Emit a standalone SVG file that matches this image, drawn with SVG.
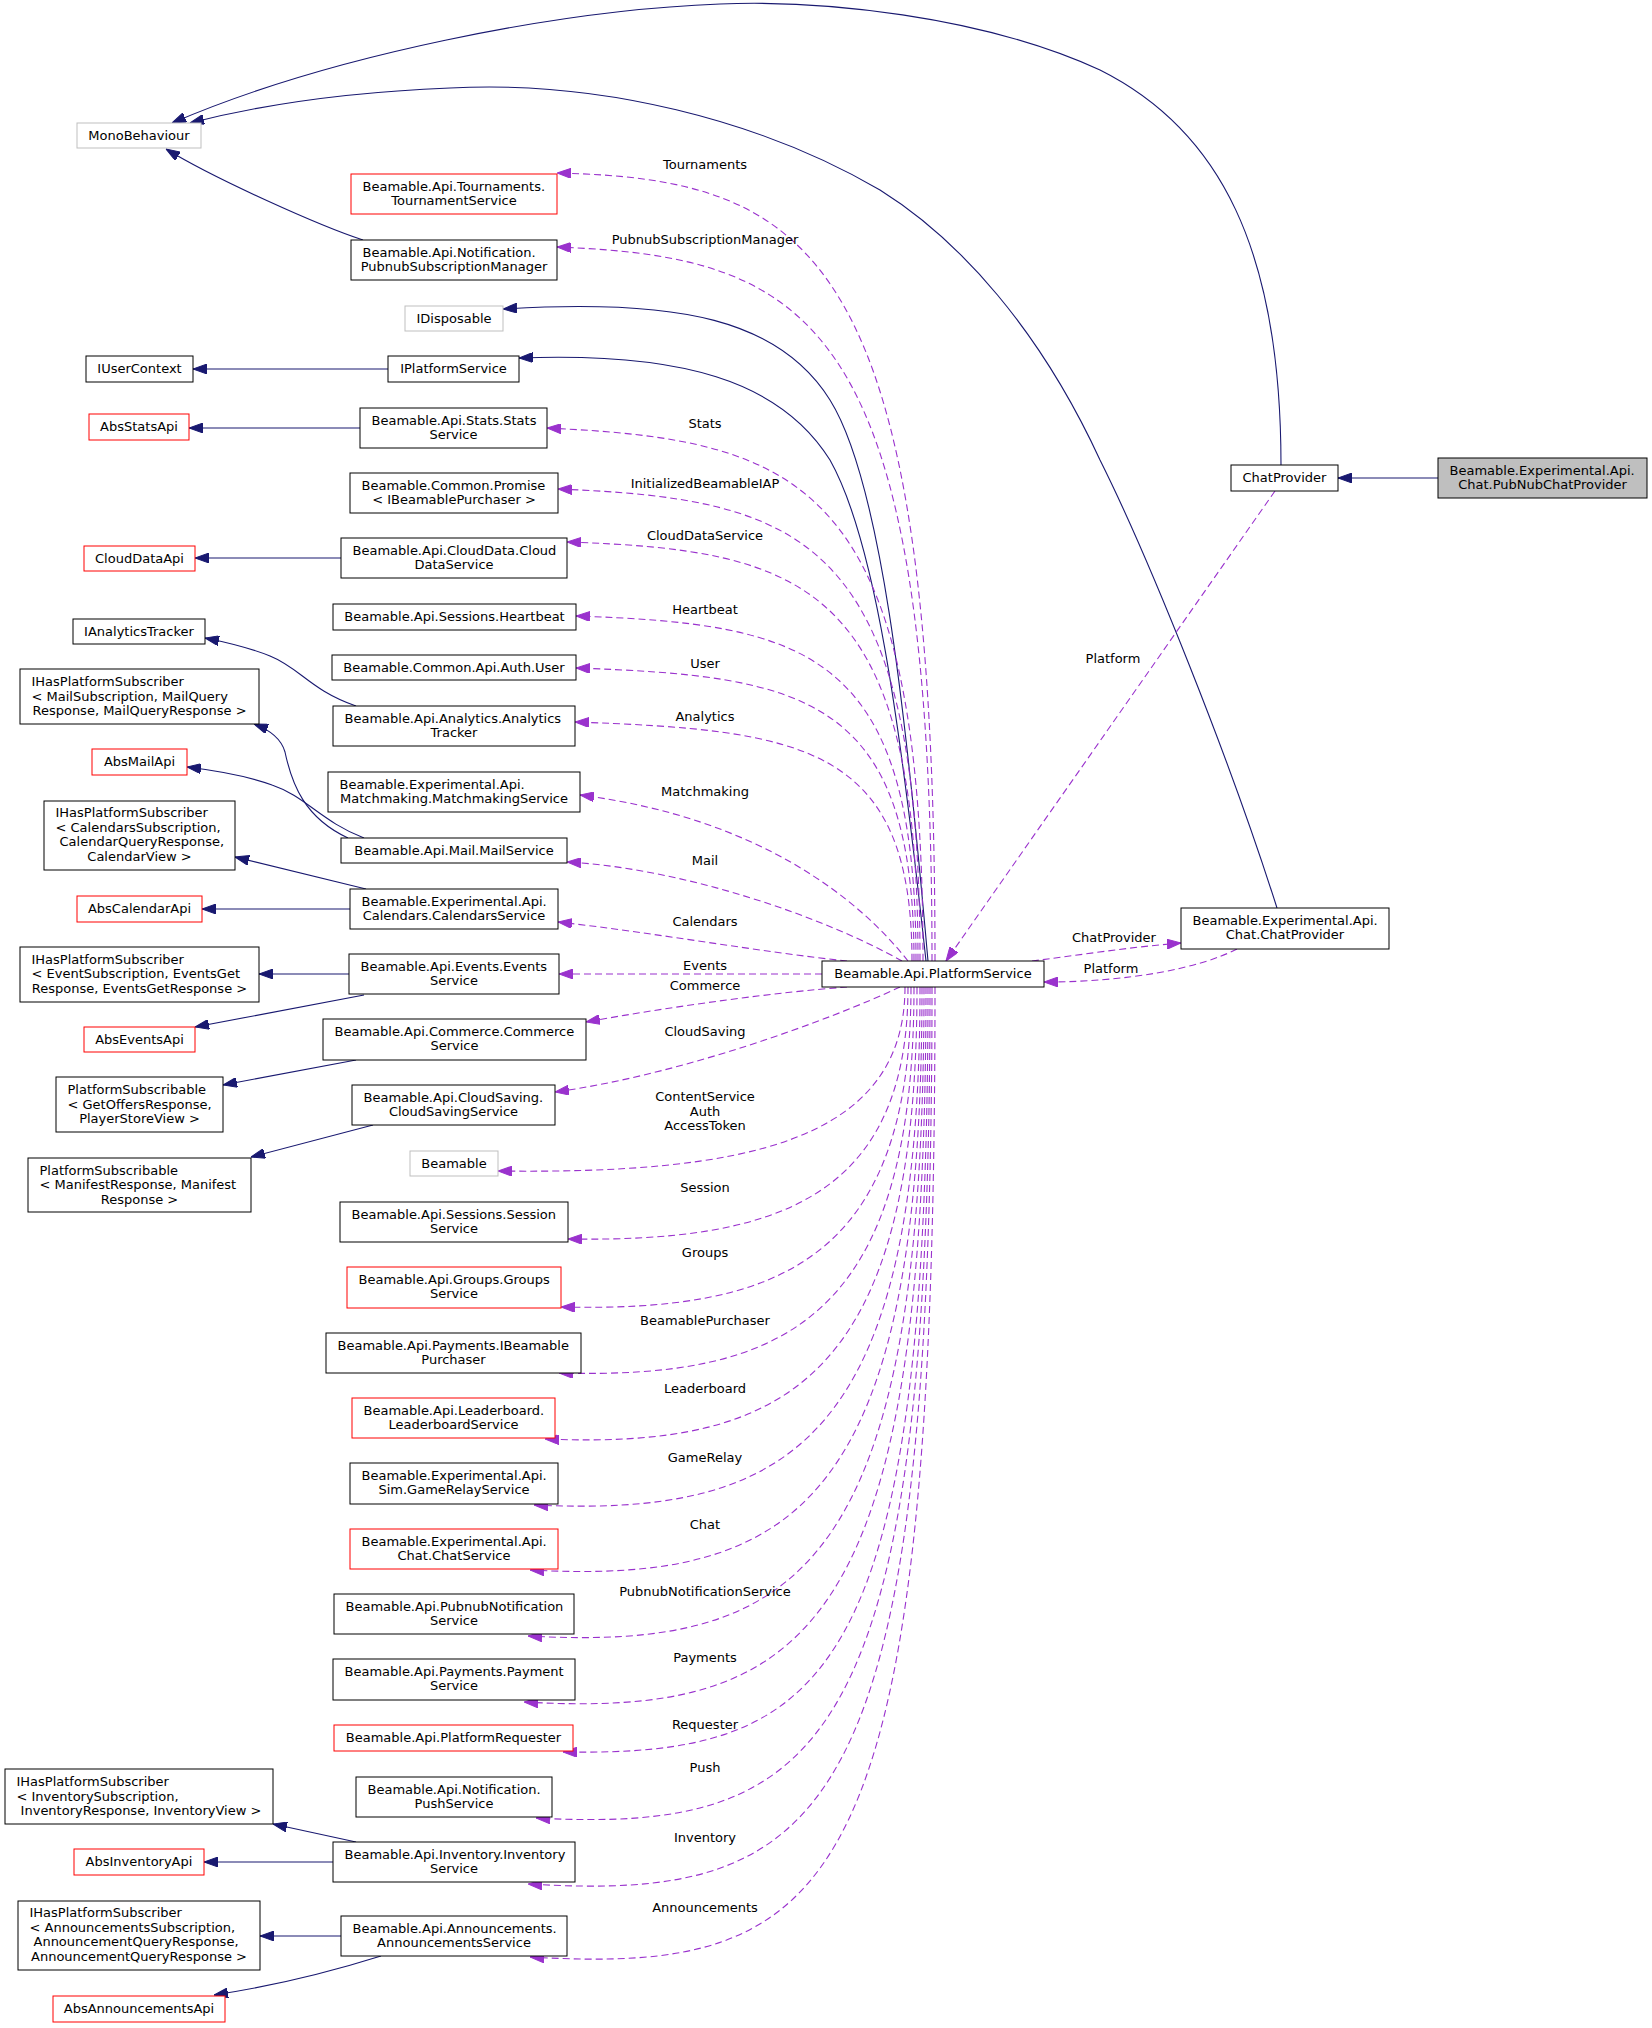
<svg xmlns="http://www.w3.org/2000/svg" width="1652" height="2028" viewBox="0 0 1652 2028">
<style>
text{font-family:"DejaVu Sans","Liberation Sans",sans-serif;font-size:13px;fill:#000}
.m{text-anchor:middle}
.nb{fill:#fff;stroke:#000;stroke-width:1}
.ng{fill:#fff;stroke:#bfbfbf;stroke-width:1}
.nr{fill:#fff;stroke:#ff0000;stroke-width:1}
.nh{fill:#bfbfbf;stroke:#000;stroke-width:1}
.e{fill:none;stroke:#191970;stroke-width:1.1;marker-end:url(#an)}
.d{fill:none;stroke:#9a32cd;stroke-width:1.1;stroke-dasharray:7,4;marker-end:url(#ap)}
</style>
<defs>
<marker id="an" viewBox="0 0 14 10" refX="14" refY="5" markerWidth="14" markerHeight="10" markerUnits="userSpaceOnUse" orient="auto"><path d="M0,0 L14,5 L0,10 z" fill="#191970" stroke="#191970" stroke-width="1"/></marker>
<marker id="ap" viewBox="0 0 14 10" refX="14" refY="5" markerWidth="14" markerHeight="10" markerUnits="userSpaceOnUse" orient="auto"><path d="M0,0 L14,5 L0,10 z" fill="#9a32cd" stroke="#9a32cd" stroke-width="1"/></marker>
</defs>
<rect width="1652" height="2028" fill="#fff"/>
<g id="edges">
<path class="e" d="M1438,478 L1338,478"/>
<path class="e" d="M1281,465 C1281,250 1220,130 1100,70 C980,15 820,0 720,4 C560,10 330,55 172,123"/>
<path class="e" d="M1277,908 C1230,760 1150,560 1100,460 C1040,330 960,240 880,190 C760,120 600,80 450,88 C350,92 260,105 190,123"/>
<path class="e" d="M363,240 C320,226 215,179 166,149"/>
<path class="e" d="M928,961 C905,700 880,480 830,400 C780,320 680,298 503,309"/>
<path class="e" d="M926,961 C900,720 875,540 830,460 C780,380 680,352 519,358"/>
<path class="e" d="M388,369 L193,369"/>
<path class="e" d="M360,428 L189,428"/>
<path class="e" d="M341,558 L195,558"/>
<path class="e" d="M356,706 C310,690 300,668 270,656 C250,648 230,643 205,638"/>
<path class="e" d="M348,838 C305,818 292,785 285,752 C281,738 270,730 254,724"/>
<path class="e" d="M364,838 C322,822 305,796 272,785 C250,777 220,771 187,767"/>
<path class="e" d="M366,889 L235,857"/>
<path class="e" d="M350,909 L202,909"/>
<path class="e" d="M349,974 L259,974"/>
<path class="e" d="M364,995 L195,1027"/>
<path class="e" d="M356,1060 L223,1085"/>
<path class="e" d="M373,1125 L251,1157"/>
<path class="e" d="M356,1842 L273,1824"/>
<path class="e" d="M333,1862 L204,1862"/>
<path class="e" d="M341,1936 L260,1936"/>
<path class="e" d="M381,1956 C330,1972 280,1985 214,1995"/>
<path class="d" d="M935,961 C935,252 814,179 557,173"/>
<path class="d" d="M932,961 C932,318 812,257 557,247"/>
<path class="d" d="M923,961 C923,481 803,440 547,428"/>
<path class="d" d="M920,961 C920,536 804,499 558,489"/>
<path class="d" d="M918,961 C918,584 806,550 567,542"/>
<path class="d" d="M916,961 C916,650 807,624 576,616"/>
<path class="d" d="M914,961 C914,697 806,676 576,668"/>
<path class="d" d="M912,961 C912,746 804,730 575,722"/>
<path class="d" d="M908,961 C860,900 760,818 580,795"/>
<path class="d" d="M902,961 C820,915 680,868 567,862"/>
<path class="d" d="M847,961 C760,952 650,932 558,922"/>
<path class="d" d="M822,974 L559,974"/>
<path class="d" d="M847,987 C780,992 680,1005 586,1022"/>
<path class="d" d="M900,987 C830,1020 680,1075 555,1092"/>
<path class="d" d="M905,987 C905,1143 742,1174 498,1171"/>
<path class="d" d="M908,987 C908,1201 772,1242 568,1239"/>
<path class="d" d="M911,987 C911,1262 777,1312 561,1307"/>
<path class="d" d="M914,987 C914,1322 783,1379 559,1373"/>
<path class="d" d="M917,987 C917,1382 785,1449 545,1439"/>
<path class="d" d="M920,987 C920,1444 789,1517 534,1505"/>
<path class="d" d="M922,987 C922,1507 794,1584 530,1570"/>
<path class="d" d="M924,987 C924,1571 801,1651 528,1636"/>
<path class="d" d="M926,987 C926,1636 807,1718 524,1702"/>
<path class="d" d="M928,987 C928,1686 824,1756 563,1752"/>
<path class="d" d="M930,987 C930,1754 823,1833 536,1818"/>
<path class="d" d="M932,987 C932,1822 829,1902 528,1884"/>
<path class="d" d="M935,987 C935,1899 838,1975 530,1957"/>
<path class="d" d="M1275,491 L946,961"/>
<path class="d" d="M1032,961 C1080,955 1130,947 1181,943"/>
<path class="d" d="M1237,949 C1200,968 1130,982 1044,982"/>
<g id="edge-labels">
<text class="m" x="705" y="168.5">Tournaments</text>
<text class="m" x="705" y="244">PubnubSubscriptionManager</text>
<text class="m" x="705" y="427.5">Stats</text>
<text class="m" x="705" y="487.5">InitializedBeamableIAP</text>
<text class="m" x="705" y="539.5">CloudDataService</text>
<text class="m" x="705" y="613.5">Heartbeat</text>
<text class="m" x="705" y="668">User</text>
<text class="m" x="705" y="720.5">Analytics</text>
<text class="m" x="705" y="796">Matchmaking</text>
<text class="m" x="705" y="865">Mail</text>
<text class="m" x="705" y="926">Calendars</text>
<text class="m" x="705" y="970">Events</text>
<text class="m" x="705" y="990">Commerce</text>
<text class="m" x="705" y="1036">CloudSaving</text>
<text class="m" x="705" y="1101">ContentService</text>
<text class="m" x="705" y="1115.5">Auth</text>
<text class="m" x="705" y="1130">AccessToken</text>
<text class="m" x="705" y="1192">Session</text>
<text class="m" x="705" y="1257">Groups</text>
<text class="m" x="705" y="1325">BeamablePurchaser</text>
<text class="m" x="705" y="1392.5">Leaderboard</text>
<text class="m" x="705" y="1462">GameRelay</text>
<text class="m" x="705" y="1529">Chat</text>
<text class="m" x="705" y="1596">PubnubNotificationService</text>
<text class="m" x="705" y="1662">Payments</text>
<text class="m" x="705" y="1729">Requester</text>
<text class="m" x="705" y="1772">Push</text>
<text class="m" x="705" y="1842">Inventory</text>
<text class="m" x="705" y="1912">Announcements</text>
<text class="m" x="1113" y="662.5">Platform</text>
<text class="m" x="1114" y="942">ChatProvider</text>
<text class="m" x="1111" y="972.5">Platform</text>
</g>
</g>
<g id="n_MonoBehaviour"><rect class="ng" x="77" y="123" width="124" height="25"/><text class="m" x="139" y="140">MonoBehaviour</text></g>
<g id="n_TournamentService"><rect class="nr" x="351" y="174" width="206" height="40"/><text x="362.5" y="190.5">Beamable.Api.Tournaments.</text><text class="m" x="454" y="205">TournamentService</text></g>
<g id="n_PubnubSubscriptionManager"><rect class="nb" x="351" y="240" width="206" height="40"/><text x="362.5" y="256.5">Beamable.Api.Notification.</text><text class="m" x="454" y="271">PubnubSubscriptionManager</text></g>
<g id="n_IDisposable"><rect class="ng" x="405" y="306" width="98" height="25"/><text class="m" x="454" y="323">IDisposable</text></g>
<g id="n_IUserContext"><rect class="nb" x="86" y="356" width="107" height="26"/><text class="m" x="139.5" y="373">IUserContext</text></g>
<g id="n_IPlatformService"><rect class="nb" x="388" y="356" width="131" height="26"/><text class="m" x="453.5" y="373">IPlatformService</text></g>
<g id="n_AbsStatsApi"><rect class="nr" x="89" y="414" width="100" height="26"/><text class="m" x="139" y="431">AbsStatsApi</text></g>
<g id="n_StatsService"><rect class="nb" x="360" y="408" width="187" height="40"/><text x="371.5" y="424.5">Beamable.Api.Stats.Stats</text><text class="m" x="453.5" y="439">Service</text></g>
<g id="n_Promise"><rect class="nb" x="350" y="473" width="208" height="40"/><text x="361.5" y="489.5">Beamable.Common.Promise</text><text class="m" x="454" y="504">&lt; IBeamablePurchaser &gt;</text></g>
<g id="n_CloudDataApi"><rect class="nr" x="84" y="546" width="111" height="25"/><text class="m" x="139.5" y="563">CloudDataApi</text></g>
<g id="n_CloudDataService"><rect class="nb" x="341" y="538" width="226" height="40"/><text x="352.5" y="554.5">Beamable.Api.CloudData.Cloud</text><text class="m" x="454" y="569">DataService</text></g>
<g id="n_Heartbeat"><rect class="nb" x="333" y="604" width="243" height="26"/><text class="m" x="454.5" y="621">Beamable.Api.Sessions.Heartbeat</text></g>
<g id="n_AuthUser"><rect class="nb" x="332" y="655" width="244" height="25"/><text class="m" x="454" y="672">Beamable.Common.Api.Auth.User</text></g>
<g id="n_IAnalyticsTracker"><rect class="nb" x="73" y="619" width="132" height="25"/><text class="m" x="139" y="636">IAnalyticsTracker</text></g>
<g id="n_IHasPS_Mail"><rect class="nb" x="20" y="669" width="239" height="55"/><text x="31.5" y="686">IHasPlatformSubscriber</text><text x="31.5" y="700.5">&lt; MailSubscription, MailQuery</text><text class="m" x="139.5" y="715">Response, MailQueryResponse &gt;</text></g>
<g id="n_AnalyticsTracker"><rect class="nb" x="333" y="706" width="242" height="40"/><text x="344.5" y="722.5">Beamable.Api.Analytics.Analytics</text><text class="m" x="454" y="737">Tracker</text></g>
<g id="n_AbsMailApi"><rect class="nr" x="92" y="749" width="95" height="26"/><text class="m" x="139.5" y="766">AbsMailApi</text></g>
<g id="n_MatchmakingService"><rect class="nb" x="328" y="772" width="252" height="40"/><text x="339.5" y="788.5">Beamable.Experimental.Api.</text><text class="m" x="454" y="803">Matchmaking.MatchmakingService</text></g>
<g id="n_MailService"><rect class="nb" x="341" y="838" width="226" height="25"/><text class="m" x="454" y="855">Beamable.Api.Mail.MailService</text></g>
<g id="n_IHasPS_Calendars"><rect class="nb" x="44" y="801" width="191" height="69"/><text x="55.5" y="817">IHasPlatformSubscriber</text><text x="55.5" y="831.5">&lt; CalendarsSubscription,</text><text x="59.5" y="846">CalendarQueryResponse,</text><text class="m" x="139.5" y="860.5">CalendarView &gt;</text></g>
<g id="n_AbsCalendarApi"><rect class="nr" x="77" y="896" width="125" height="26"/><text class="m" x="139.5" y="913">AbsCalendarApi</text></g>
<g id="n_CalendarsService"><rect class="nb" x="350" y="889" width="208" height="40"/><text x="361.5" y="905.5">Beamable.Experimental.Api.</text><text class="m" x="454" y="920">Calendars.CalendarsService</text></g>
<g id="n_IHasPS_Events"><rect class="nb" x="20" y="947" width="239" height="55"/><text x="31.5" y="963.5">IHasPlatformSubscriber</text><text x="31.5" y="978">&lt; EventSubscription, EventsGet</text><text class="m" x="139.5" y="992.5">Response, EventsGetResponse &gt;</text></g>
<g id="n_EventsService"><rect class="nb" x="349" y="954" width="210" height="40"/><text x="360.5" y="970.5">Beamable.Api.Events.Events</text><text class="m" x="454" y="985">Service</text></g>
<g id="n_AbsEventsApi"><rect class="nr" x="84" y="1027" width="111" height="25"/><text class="m" x="139.5" y="1044">AbsEventsApi</text></g>
<g id="n_CommerceService"><rect class="nb" x="323" y="1019" width="263" height="41"/><text x="334.5" y="1035.5">Beamable.Api.Commerce.Commerce</text><text class="m" x="454.5" y="1050">Service</text></g>
<g id="n_PS_GetOffers"><rect class="nb" x="56" y="1077" width="167" height="55"/><text x="67.5" y="1094">PlatformSubscribable</text><text x="67.5" y="1108.5">&lt; GetOffersResponse,</text><text class="m" x="139.5" y="1123">PlayerStoreView &gt;</text></g>
<g id="n_CloudSavingService"><rect class="nb" x="352" y="1085" width="203" height="40"/><text x="363.5" y="1101.5">Beamable.Api.CloudSaving.</text><text class="m" x="453.5" y="1116">CloudSavingService</text></g>
<g id="n_PS_Manifest"><rect class="nb" x="28" y="1158" width="223" height="54"/><text x="39.5" y="1174.5">PlatformSubscribable</text><text x="39.5" y="1189">&lt; ManifestResponse, Manifest</text><text class="m" x="139.5" y="1203.5">Response &gt;</text></g>
<g id="n_Beamable"><rect class="ng" x="410" y="1151" width="88" height="25"/><text class="m" x="454" y="1168">Beamable</text></g>
<g id="n_SessionService"><rect class="nb" x="340" y="1202" width="228" height="40"/><text x="351.5" y="1218.5">Beamable.Api.Sessions.Session</text><text class="m" x="454" y="1233">Service</text></g>
<g id="n_GroupsService"><rect class="nr" x="347" y="1267" width="214" height="41"/><text x="358.5" y="1283.5">Beamable.Api.Groups.Groups</text><text class="m" x="454" y="1298">Service</text></g>
<g id="n_IBeamablePurchaser"><rect class="nb" x="326" y="1333" width="255" height="40"/><text x="337.5" y="1349.5">Beamable.Api.Payments.IBeamable</text><text class="m" x="453.5" y="1364">Purchaser</text></g>
<g id="n_LeaderboardService"><rect class="nr" x="352" y="1398" width="203" height="40"/><text x="363.5" y="1414.5">Beamable.Api.Leaderboard.</text><text class="m" x="453.5" y="1429">LeaderboardService</text></g>
<g id="n_GameRelayService"><rect class="nb" x="350" y="1463" width="208" height="41"/><text x="361.5" y="1479.5">Beamable.Experimental.Api.</text><text class="m" x="454" y="1494">Sim.GameRelayService</text></g>
<g id="n_ChatService"><rect class="nr" x="350" y="1529" width="208" height="40"/><text x="361.5" y="1545.5">Beamable.Experimental.Api.</text><text class="m" x="454" y="1560">Chat.ChatService</text></g>
<g id="n_PubnubNotificationService"><rect class="nb" x="334" y="1594" width="240" height="40"/><text x="345.5" y="1610.5">Beamable.Api.PubnubNotification</text><text class="m" x="454" y="1625">Service</text></g>
<g id="n_PaymentService"><rect class="nb" x="333" y="1659" width="242" height="41"/><text x="344.5" y="1675.5">Beamable.Api.Payments.Payment</text><text class="m" x="454" y="1690">Service</text></g>
<g id="n_PlatformRequester"><rect class="nr" x="334" y="1725" width="239" height="26"/><text class="m" x="453.5" y="1742">Beamable.Api.PlatformRequester</text></g>
<g id="n_PushService"><rect class="nb" x="356" y="1777" width="196" height="40"/><text x="367.5" y="1793.5">Beamable.Api.Notification.</text><text class="m" x="454" y="1808">PushService</text></g>
<g id="n_IHasPS_Inventory"><rect class="nb" x="5" y="1769" width="268" height="55"/><text x="16.5" y="1786">IHasPlatformSubscriber</text><text x="16.5" y="1800.5">&lt; InventorySubscription,</text><text class="m" x="141" y="1815">InventoryResponse, InventoryView &gt;</text></g>
<g id="n_InventoryService"><rect class="nb" x="333" y="1842" width="242" height="40"/><text x="344.5" y="1858.5">Beamable.Api.Inventory.Inventory</text><text class="m" x="454" y="1873">Service</text></g>
<g id="n_AbsInventoryApi"><rect class="nr" x="74" y="1849" width="130" height="26"/><text class="m" x="139" y="1866">AbsInventoryApi</text></g>
<g id="n_IHasPS_Announcements"><rect class="nb" x="18" y="1901" width="242" height="69"/><text x="29.5" y="1917">IHasPlatformSubscriber</text><text x="29.5" y="1931.5">&lt; AnnouncementsSubscription,</text><text x="33.5" y="1946">AnnouncementQueryResponse,</text><text class="m" x="139" y="1960.5">AnnouncementQueryResponse &gt;</text></g>
<g id="n_AnnouncementsService"><rect class="nb" x="341" y="1916" width="226" height="40"/><text x="352.5" y="1932.5">Beamable.Api.Announcements.</text><text class="m" x="454" y="1947">AnnouncementsService</text></g>
<g id="n_AbsAnnouncementsApi"><rect class="nr" x="53" y="1996" width="172" height="26"/><text class="m" x="139" y="2013">AbsAnnouncementsApi</text></g>
<g id="n_PlatformService"><rect class="nb" x="822" y="961" width="222" height="26"/><text class="m" x="933" y="978">Beamable.Api.PlatformService</text></g>
<g id="n_ChatProvider"><rect class="nb" x="1231" y="465" width="107" height="26"/><text class="m" x="1284.5" y="482">ChatProvider</text></g>
<g id="n_PubNubChatProvider"><rect class="nh" x="1438" y="458" width="209" height="40"/><text x="1449.5" y="474.5">Beamable.Experimental.Api.</text><text class="m" x="1542.5" y="489">Chat.PubNubChatProvider</text></g>
<g id="n_ChatChatProvider"><rect class="nb" x="1181" y="908" width="208" height="41"/><text x="1192.5" y="924.5">Beamable.Experimental.Api.</text><text class="m" x="1285" y="939">Chat.ChatProvider</text></g>
</svg>
